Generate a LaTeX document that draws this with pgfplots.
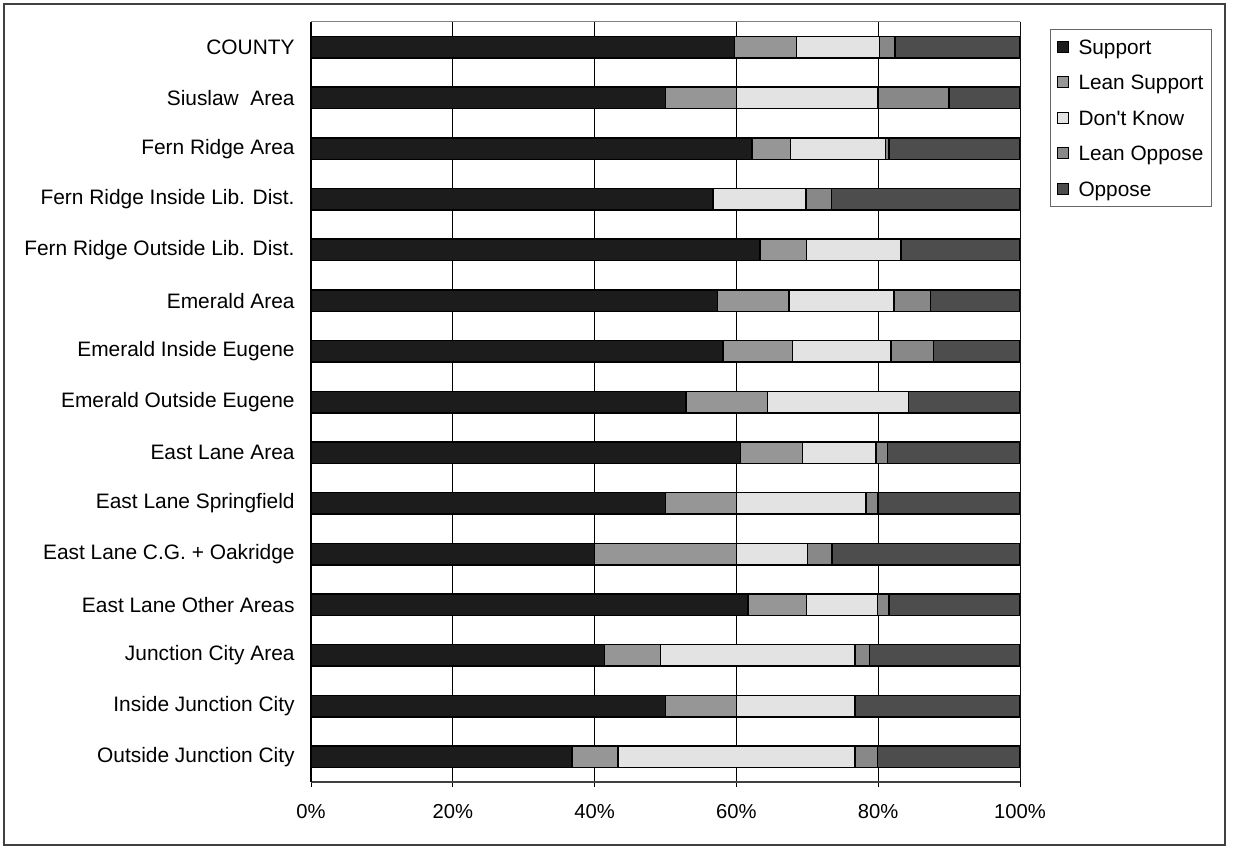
\documentclass[border=0pt]{standalone}
\usepackage{pgfplots}
\pgfplotsset{compat=1.18}
\usepackage{pgfplotstable}
\usepackage{fontspec}
\setmainfont{Liberation Sans}

\definecolor{cSup}{HTML}{1C1C1C}
\definecolor{cLSup}{HTML}{969696}
\definecolor{cDK}{HTML}{E3E3E3}
\definecolor{cLOpp}{HTML}{888888}
\definecolor{cOpp}{HTML}{4D4D4D}

% idx 14 = COUNTY (top) ... 0 = Outside Junction City (bottom)
\pgfplotstableread{
idx S    LS   DK   LO   O
14  59.7 8.8  11.7 2.2  17.6
13  50.0 10.0 20.0 10.0 10.0
12  62.2 5.4  13.4 0.5  18.5
11  56.7 0.0  13.1 3.6  26.6
10  63.3 6.6  13.3 0.0  16.8
9   57.3 10.1 14.8 5.2  12.6
8   58.1 9.8  13.9 6.0  12.2
7   52.9 11.5 19.9 0.0  15.7
6   60.6 8.7  10.4 1.6  18.7
5   50.0 10.0 18.3 1.7  20.0
4   40.0 20.0 10.0 3.5  26.5
3   61.6 8.3  10.0 1.6  18.5
2   41.4 7.9  27.4 2.1  21.2
1   50.0 10.0 16.7 0.0  23.3
0   36.8 6.5  33.4 3.2  20.1
}\polldata

\begin{document}
\begin{tikzpicture}
\useasboundingbox (0,0) rectangle (617.5pt,423.5pt);
\draw[line width=0.75pt, black!75] (2pt,1pt) rectangle (612.5pt,421.5pt);
\begin{axis}[
    at={(155.5pt,32.5pt)}, anchor=south west,
    scale only axis, width=354.5pt, height=380pt,
    xbar stacked, bar width=10.75pt,
    xmin=0, xmax=100, ymin=-0.5, ymax=14.5,
    axis x line*=bottom, axis y line*=left,
    x axis line style={black!75, line width=0.9pt},
    y axis line style={black, line width=0.6pt},
    xtick={0,20,40,60,80,100},
    xticklabels={0\%,20\%,40\%,60\%,80\%,100\%},
    xtick align=outside, major tick length=2.5pt,
    xtick style={black, line width=0.5pt},
    xmajorgrids, major grid style={black, line width=0.5pt},
    ytick={0,...,14},
    yticklabels={Outside Junction City, Inside Junction City, Junction City Area,
        East Lane Other Areas, East Lane C.G. + Oakridge, East Lane Springfield,
        East Lane Area, Emerald Outside Eugene, Emerald Inside Eugene, Emerald Area,
        Fern Ridge Outside Lib. Dist., Fern Ridge Inside Lib. Dist., Fern Ridge Area,
        Siuslaw\ \ Area, COUNTY},
    ytick style={draw=none},
    minor ytick={-0.5,0.5,...,14.5},
    minor tick length=3pt, ytick align=outside,
    minor y tick style={black, line width=0.6pt},
    xticklabel style={font=\fontsize{10.1}{12}\selectfont, inner sep=0pt, yshift=-8.5pt},
    yticklabel style={font=\fontsize{10.45}{12}\selectfont, inner sep=0pt, xshift=-5.5pt},
    every axis plot/.append style={draw=black, line width=0.75pt},
    every axis plot post/.append style={
        legend image code/.code={\draw[##1, line width=0.5pt] (0pt,-2.75pt) rectangle (5.5pt,2.75pt);}},
    legend cell align=left,
    legend style={at={(1.0423,0.9908)}, anchor=north west,
        draw=black!60, line width=0.5pt, fill=white,
        inner xsep=3pt, inner ysep=3pt, row sep=6.25pt,
        font=\fontsize{10.4}{12}\selectfont,
        nodes={inner sep=1pt, text height=8.5pt, text depth=1pt},
        /tikz/every odd column/.append style={column sep=4pt}},
]
\addplot[fill=cSup]  table[x=S,  y=idx]{\polldata};
\addplot[fill=cLSup] table[x=LS, y=idx]{\polldata};
\addplot[fill=cDK]   table[x=DK, y=idx]{\polldata};
\addplot[fill=cLOpp] table[x=LO, y=idx]{\polldata};
\addplot[fill=cOpp]  table[x=O,  y=idx]{\polldata};
\legend{Support, Lean Support, Don\textquotesingle t Know, Lean Oppose, Oppose}
\draw[black!50, line width=0.5pt] (rel axis cs:0,1) -- (rel axis cs:1,1) -- (rel axis cs:1,0);
\end{axis}
\end{tikzpicture}
\end{document}
